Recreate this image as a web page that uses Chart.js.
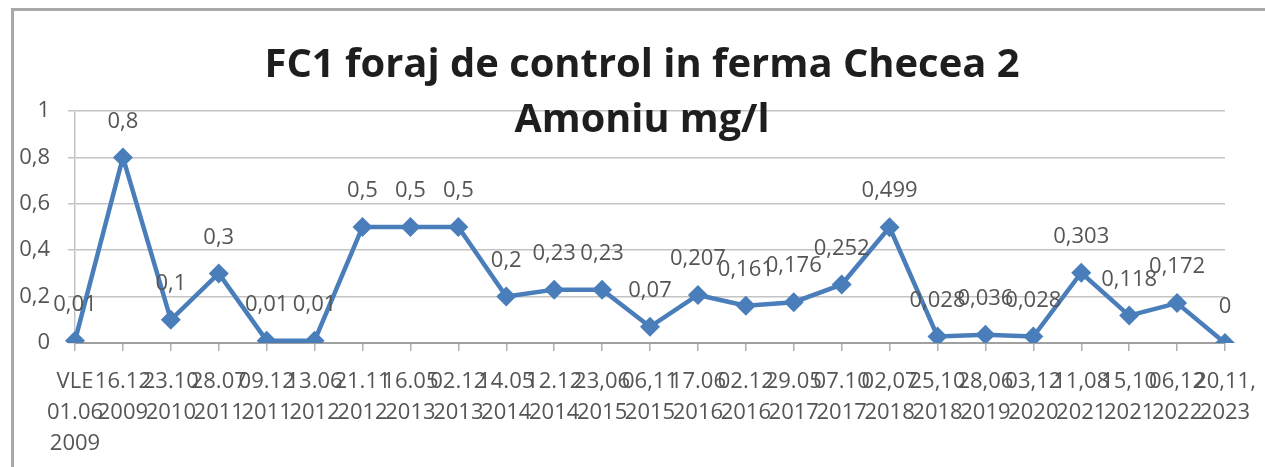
<!DOCTYPE html>
<html>
<head>
<meta charset="utf-8">
<script src="https://cdn.jsdelivr.net/npm/chart.js@4.4.1/dist/chart.umd.min.js"></script>
<style>
  html, body { margin: 0; padding: 0; background: #fff; }
  #wrap { position: relative; width: 1265px; height: 467px; overflow: hidden; }
  #frame { position: absolute; left: 11px; top: 8px; right: -10px; bottom: -10px;
           border-top: 3px solid #a8a8a8; border-left: 3px solid #a8a8a8; }
  canvas { position: absolute; left: 0; top: 0; }
</style>
</head>
<body>
<div id="wrap">
  <div id="frame"></div>
  <canvas id="c" width="1265" height="467"></canvas>
</div>
<script>
// sampling dates (as written under the axis)
const dates = [
  ['VLE', '01.06', '2009'],
  ['16.12', '2009'], ['23.10', '2010'], ['28.07', '2011'], ['09.12', '2011'],
  ['13.06', '2012'], ['21.11', '2012'], ['16.05', '2013'], ['02.12', '2013'],
  ['14.05', '2014'], ['12.12', '2014'], ['23,06', '2015'], ['06,11', '2015'],
  ['17.06', '2016'], ['02.12', '2016'], ['29.05', '2017'], ['07.10', '2017'],
  ['02,07', '2018'], ['25,10', '2018'], ['28,06', '2019'], ['03,12', '2020'],
  ['11,08', '2021'], ['15,10', '2021'], ['06,12', '2022'], ['20,11,', '2023']
];

// ammonium, mg/l
const amoniu = [
  0.01, 0.8, 0.1, 0.3, 0.01, 0.01, 0.5, 0.5, 0.5, 0.2, 0.23, 0.23, 0.07,
  0.207, 0.161, 0.176, 0.252, 0.499, 0.028, 0.036, 0.028, 0.303, 0.118, 0.172, 0
];

const titleLines = ['FC1 foraj de control in ferma Checea 2', 'Amoniu mg/l'];

const yMin = 0;
const yMax = 1;
const yStep = 0.2;

const LINE_BLUE = '#4a7ebb';
const TEXT_GREY = '#555555';
const TICK_FONT = { family: '"Open Sans", "DejaVu Sans", sans-serif', size: 22 };

const comma = (v) => String(v).replace('.', ',');

// value labels above each marker
const valueLabels = {
  id: 'valueLabels',
  afterDatasetsDraw(chart) {
    const { ctx } = chart;
    const meta = chart.getDatasetMeta(0);
    ctx.save();
    ctx.font = `${TICK_FONT.size}px ${TICK_FONT.family}`;
    ctx.fillStyle = TEXT_GREY;
    ctx.textAlign = 'center';
    ctx.textBaseline = 'middle';
    meta.data.forEach((pt, i) => {
      ctx.fillText(comma(amoniu[i]), pt.x, pt.y - 36);
    });
    ctx.restore();
  }
};

// two-line title, drawn over the plot like the original
const chartTitle = {
  id: 'chartTitle',
  afterDraw(chart) {
    const { ctx } = chart;
    const spots = [
      { baseline: 77, width: 755 },
      { baseline: 132, width: 255 }
    ];
    ctx.save();
    ctx.font = 'bold 40px "Open Sans", "DejaVu Sans", sans-serif';
    ctx.fillStyle = '#1e1e1e';
    ctx.textAlign = 'center';
    ctx.textBaseline = 'alphabetic';
    titleLines.forEach((line, i) => {
      const w = ctx.measureText(line).width;
      ctx.save();
      ctx.translate(642, spots[i].baseline);
      ctx.scale(spots[i].width / w, 1);
      ctx.fillText(line, 0, 0);
      ctx.restore();
    });
    ctx.restore();
  }
};

new Chart(document.getElementById('c'), {
  type: 'line',
  data: {
    labels: dates,
    datasets: [{
      label: 'Amoniu mg/l',
      data: amoniu,
      borderColor: LINE_BLUE,
      backgroundColor: LINE_BLUE,
      borderWidth: 4.5,
      tension: 0,
      pointStyle: 'rectRot',
      pointRadius: 10,
      pointBorderWidth: 0,
      pointBackgroundColor: LINE_BLUE
    }]
  },
  options: {
    responsive: false,
    devicePixelRatio: 1,
    animation: false,
    layout: { padding: { top: 111, right: 40, bottom: 0, left: 0 } },
    plugins: {
      legend: { display: false },
      tooltip: { enabled: false },
      title: { display: false }
    },
    scales: {
      x: {
        offset: false,
        grid: { drawOnChartArea: false, drawTicks: true, tickLength: 8, color: '#b0b0b0', lineWidth: 1.5 },
        border: { display: true, color: '#a0a0a0', width: 2 },
        ticks: {
          autoSkip: false, maxRotation: 0, minRotation: 0,
          color: TEXT_GREY, font: { ...TICK_FONT, lineHeight: 1.42 }, padding: 15
        },
        afterFit(scale) {
          scale.height = 124;
          scale.paddingLeft = 0;
          scale.paddingRight = 0;
        }
      },
      y: {
        min: yMin, max: yMax,
        grid: { color: '#c4c4c4', lineWidth: 1.5, tickLength: 7 },
        border: { display: true, color: '#c4c4c4', width: 1.5 },
        ticks: {
          stepSize: yStep, color: TEXT_GREY, font: TICK_FONT, padding: 18,
          callback: (v) => comma(+v.toFixed(1))
        },
        afterFit(scale) { scale.width = 75; }
      }
    }
  },
  plugins: [valueLabels, chartTitle]
});
</script>
</body>
</html>
